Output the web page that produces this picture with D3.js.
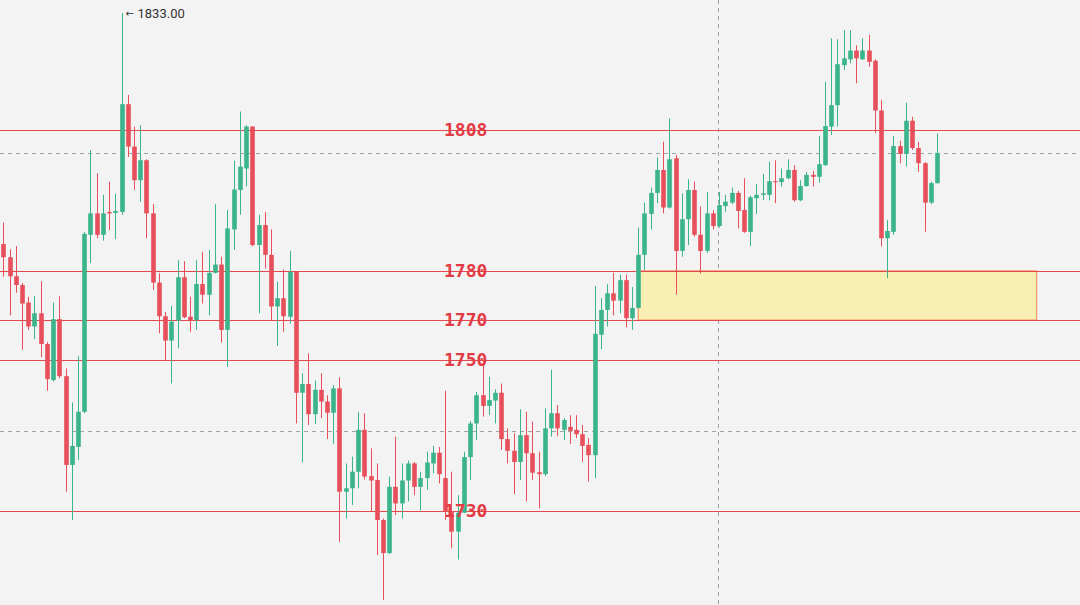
<!DOCTYPE html>
<html><head><meta charset="utf-8">
<script src="https://cdn.jsdelivr.net/npm/d3@7"></script>
<style>html,body{margin:0;padding:0;background:#f3f3f3;overflow:hidden;} svg{display:block;}</style>
</head><body>
<svg id="chart" width="1080" height="605"></svg>
<script>
// OHLC series (price values)
const open  = [1785.6,1782.9,1779.0,1777.2,1773.6,1768.7,1771.4,1765.1,1757.7,1770.2,1758.5,1740.3,1744.0,1751.2,1787.5,1791.9,1787.5,1792.2,1792.0,1792.2,1814.3,1805.6,1798.7,1802.8,1791.9,1777.7,1770.8,1765.8,1769.9,1778.8,1770.7,1770.0,1777.4,1775.2,1779.7,1781.4,1768.0,1788.6,1796.7,1801.1,1809.7,1785.4,1789.5,1783.4,1772.8,1774.5,1770.7,1779.9,1755.1,1756.9,1750.7,1755.7,1753.3,1751.0,1756.0,1734.8,1735.5,1738.9,1747.5,1738.0,1737.2,1729.0,1722.2,1735.8,1732.4,1737.1,1740.6,1735.8,1737.6,1740.6,1742.8,1737.6,1730.7,1726.6,1730.5,1741.9,1748.8,1754.6,1752.4,1753.5,1755.1,1745.6,1743.2,1740.9,1746.4,1742.7,1738.8,1738.4,1747.8,1750.9,1747.5,1748.1,1747.5,1746.6,1744.4,1742.3,1767.0,1772.1,1775.5,1774.0,1778.2,1770.4,1772.5,1783.4,1791.8,1796.1,1800.8,1793.1,1803.2,1784.2,1790.7,1796.7,1787.5,1784.2,1791.9,1789.3,1793.4,1794.1,1796.1,1792.6,1788.1,1795.0,1795.7,1795.7,1798.5,1798.3,1799.1,1800.8,1794.6,1797.5,1799.8,1799.4,1801.8,1809.7,1814.1,1822.3,1823.5,1825.3,1823.5,1825.3,1823.2,1813.0,1786.8,1788.1,1805.7,1804.1,1810.9,1805.3,1802.2,1794.1,1798.1];
const high  = [1790.0,1784.5,1785.2,1777.6,1774.8,1774.9,1778.0,1765.5,1773.6,1774.9,1760.1,1753.1,1762.6,1788.1,1804.9,1800.1,1795.7,1798.4,1795.9,1833.0,1816.2,1809.7,1810.0,1803.0,1793.8,1779.6,1771.7,1772.9,1782.3,1782.1,1774.8,1782.3,1784.0,1784.4,1793.8,1783.0,1792.6,1802.7,1812.8,1810.0,1809.8,1791.6,1792.2,1788.6,1777.9,1780.4,1784.2,1780.0,1759.1,1763.2,1757.6,1759.1,1754.6,1756.7,1758.3,1740.6,1742.0,1751.2,1750.9,1743.7,1740.6,1729.3,1737.9,1746.1,1740.6,1741.2,1740.9,1738.9,1743.0,1744.2,1744.0,1755.5,1738.9,1734.1,1743.0,1749.3,1755.3,1761.8,1758.4,1755.8,1757.0,1747.8,1746.8,1751.7,1751.2,1749.2,1743.0,1751.9,1759.8,1752.6,1749.9,1750.5,1750.5,1748.5,1745.8,1777.0,1774.5,1777.4,1779.7,1779.3,1779.3,1776.8,1789.0,1794.1,1797.2,1803.4,1806.6,1811.4,1803.9,1796.0,1798.9,1798.4,1793.3,1796.3,1792.6,1796.3,1795.7,1797.2,1796.5,1799.1,1795.5,1797.9,1800.0,1802.5,1802.8,1801.1,1803.0,1801.8,1798.7,1800.4,1800.6,1807.8,1818.9,1827.8,1827.6,1829.5,1829.5,1826.4,1827.8,1828.5,1823.5,1815.2,1790.5,1807.8,1806.8,1814.6,1811.7,1806.6,1802.4,1798.4,1808.3];
const low   = [1778.9,1771.0,1775.6,1763.9,1768.0,1766.1,1762.4,1755.5,1757.4,1758.1,1734.8,1729.0,1741.3,1750.9,1781.7,1786.8,1786.3,1788.5,1786.6,1791.6,1803.5,1796.7,1794.3,1786.8,1776.2,1767.3,1761.8,1757.0,1764.2,1770.4,1767.6,1768.0,1773.4,1771.0,1779.6,1765.4,1760.4,1784.4,1791.6,1797.4,1785.1,1771.4,1780.6,1770.0,1764.7,1767.6,1769.3,1748.8,1740.8,1748.5,1748.7,1749.9,1745.6,1744.6,1724.5,1729.3,1732.1,1735.5,1737.3,1730.7,1721.8,1712.6,1722.0,1730.0,1729.3,1732.8,1734.1,1731.0,1735.2,1738.6,1736.5,1729.0,1723.2,1720.9,1730.4,1737.2,1745.4,1750.2,1750.5,1748.8,1743.4,1740.6,1734.3,1737.2,1732.8,1737.2,1731.4,1738.0,1746.1,1746.2,1745.4,1744.6,1745.8,1740.9,1736.9,1737.6,1764.0,1768.7,1771.0,1771.4,1768.5,1768.0,1772.4,1780.3,1788.6,1794.0,1791.9,1792.9,1775.2,1783.0,1785.4,1787.1,1779.6,1783.8,1788.6,1789.0,1792.2,1793.8,1788.8,1787.9,1785.2,1791.8,1794.6,1794.6,1794.0,1797.4,1798.9,1794.3,1794.4,1797.4,1797.4,1798.2,1801.6,1808.0,1809.7,1821.3,1822.7,1818.6,1823.4,1822.0,1808.3,1785.1,1778.6,1787.5,1802.2,1801.5,1804.9,1800.4,1788.1,1793.8,1798.0];
const close = [1782.9,1779.0,1777.2,1773.4,1768.7,1771.4,1765.1,1757.9,1770.2,1758.5,1740.3,1744.2,1751.2,1787.7,1791.9,1787.5,1791.9,1791.9,1792.4,1814.3,1805.6,1798.7,1802.8,1791.9,1777.7,1770.8,1765.8,1769.7,1778.8,1770.6,1769.9,1777.4,1775.2,1779.7,1781.4,1768.0,1788.8,1796.8,1801.5,1809.7,1785.4,1789.5,1783.4,1772.8,1774.5,1770.8,1779.9,1755.1,1756.9,1750.7,1755.7,1753.3,1751.0,1756.0,1734.8,1735.5,1738.9,1747.5,1737.9,1737.1,1729.0,1722.2,1735.8,1732.4,1737.1,1740.6,1735.8,1737.6,1740.8,1742.8,1738.4,1730.7,1726.6,1730.5,1741.9,1748.8,1754.6,1752.4,1753.6,1755.1,1745.6,1743.2,1740.9,1746.4,1742.7,1738.7,1738.4,1747.8,1750.9,1747.8,1749.5,1747.3,1746.6,1744.2,1742.3,1767.2,1772.1,1775.5,1774.0,1778.2,1770.4,1772.5,1783.4,1791.9,1796.1,1800.8,1793.1,1803.0,1784.2,1790.7,1796.7,1787.5,1784.2,1791.9,1789.3,1793.6,1794.3,1796.1,1792.4,1788.1,1795.2,1795.7,1796.0,1798.5,1798.3,1799.1,1800.8,1794.6,1797.5,1799.8,1799.4,1802.0,1809.8,1814.1,1822.5,1823.7,1825.3,1823.7,1825.3,1823.0,1813.0,1786.8,1788.3,1805.7,1804.1,1810.9,1805.3,1802.2,1794.1,1798.1,1804.3];

// annotated horizontal levels
const levelPrices = [1809.0, 1780.1, 1770.0, 1761.8, 1730.9];
const levelLabels = ["1808", "1780", "1770", "1750", "1730"];
// highlighted zone
const zonePrices = [1780.1, 1770.0];
const zoneIndex = [102, 166];
// crosshair
const crossIndex = 115;
const crossPrice = 1747.3;
// max marker
const maxIndex = 19;
const maxLabel = "1833.00";

const W = 1080, H = 605;
const svg = d3.select("#chart");
const x = d3.scaleLinear().domain([0, open.length - 1]).range([3.3, 937]);
const y = d3.scaleLinear().domain([1835.67, 1711.56]).range([0, H]);

const UP = "#3bb48c", DOWN = "#e7505a", LINE = "#e5484f";

svg.append("rect").attr("width", W).attr("height", H).attr("fill", "#f3f3f3");

// dashed last-price line & crosshair
const lastClose = close[close.length - 1];
svg.append("line").attr("x1", 0).attr("x2", W)
  .attr("y1", Math.round(y(lastClose)) + 0.5).attr("y2", Math.round(y(lastClose)) + 0.5)
  .attr("stroke", "#a0a4a8").attr("stroke-dasharray", "4,4").attr("stroke-width", 1);
svg.append("line").attr("x1", 0).attr("x2", W)
  .attr("y1", Math.round(y(crossPrice)) + 0.5).attr("y2", Math.round(y(crossPrice)) + 0.5)
  .attr("stroke", "#a0a4a8").attr("stroke-dasharray", "4,4").attr("stroke-width", 1);
svg.append("line").attr("y1", 0).attr("y2", H)
  .attr("x1", Math.round(x(crossIndex)) - 0.5).attr("x2", Math.round(x(crossIndex)) - 0.5)
  .attr("stroke", "#a0a4a8").attr("stroke-dasharray", "4,4").attr("stroke-width", 1);

// zone
svg.append("rect")
  .attr("x", x(zoneIndex[0])).attr("width", x(zoneIndex[1]) - x(zoneIndex[0]))
  .attr("y", y(zonePrices[0])).attr("height", y(zonePrices[1]) - y(zonePrices[0]))
  .attr("fill", "#f9efb4").attr("stroke", "#f2945e").attr("stroke-width", 1.2);

// level lines
svg.selectAll("line.level").data(levelPrices).enter().append("line")
  .attr("class", "level")
  .attr("x1", 0).attr("x2", W)
  .attr("y1", d => Math.round(y(d)) + 0.5).attr("y2", d => Math.round(y(d)) + 0.5)
  .attr("stroke", LINE).attr("stroke-width", 1);

// candles
const idx = d3.range(open.length);
const bw = 4.6;
const g = svg.append("g");
g.selectAll("line.wick").data(idx).enter().append("line")
  .attr("x1", i => Math.round(x(i)) + 0.5).attr("x2", i => Math.round(x(i)) + 0.5)
  .attr("y1", i => y(high[i])).attr("y2", i => y(low[i]))
  .attr("stroke", i => close[i] >= open[i] ? UP : DOWN).attr("stroke-width", 1);
g.selectAll("rect.body").data(idx).enter().append("rect")
  .attr("x", i => Math.round(x(i)) + 0.5 - bw / 2)
  .attr("width", bw)
  .attr("y", i => y(Math.max(open[i], close[i])))
  .attr("height", i => Math.max(1, Math.abs(y(open[i]) - y(close[i]))))
  .attr("fill", i => close[i] >= open[i] ? UP : DOWN);

// level labels
svg.selectAll("text.lvl").data(levelPrices).enter().append("text")
  .attr("x", 444).attr("y", d => Math.round(y(d)) + 6)
  .attr("font-family", "'DejaVu Sans Mono', monospace").attr("font-weight", "bold")
  .attr("font-size", 18).attr("fill", "#e23b45")
  .text((d, i) => levelLabels[i]);

// max marker
const mx = Math.round(x(maxIndex)) + 0.5;
svg.append("text").attr("x", mx + 3).attr("y", y(high[maxIndex]) + 4)
  .attr("font-family", "'DejaVu Sans', sans-serif").attr("font-size", 10).attr("fill", "#333")
  .text("←");
svg.append("text").attr("x", mx + 15).attr("y", y(high[maxIndex]) + 4.5)
  .attr("font-family", "Roboto, sans-serif").attr("font-size", 13).attr("fill", "#333")
  .text(maxLabel);
</script>
</body></html>
